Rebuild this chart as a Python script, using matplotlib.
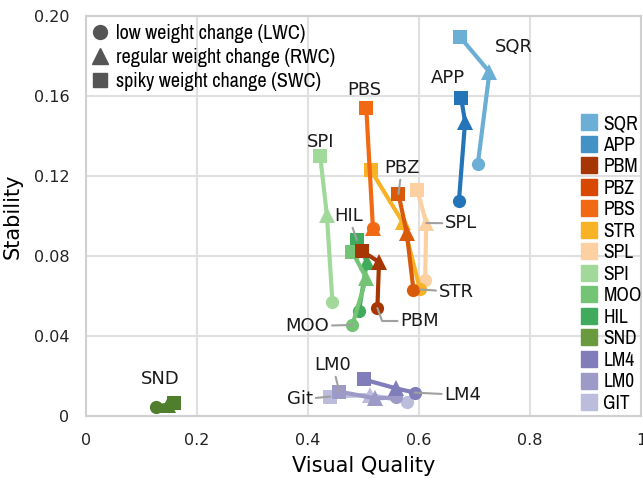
import numpy as np
import matplotlib
matplotlib.use("Agg")
import matplotlib.pyplot as plt
from matplotlib.lines import Line2D
from matplotlib import font_manager

# method names (legend order) and colours
methods = ["SQR", "APP", "PBM", "PBZ", "PBS", "STR", "SPL", "SPI", "MOO", "HIL", "SND", "LM4", "LM0", "GIT"]
colors = ["#6baed6", "#2474b8", "#a63603", "#d95a0b", "#f16913", "#f7b225", "#fdd0a2",
          "#a1d99b", "#74c476", "#41ab5d", "#4f7f2c", "#807dba", "#9e9ac8", "#bcbddc"]
legend_colors = ["#6baed6", "#4292c6", "#a63603", "#d94801", "#f16913", "#f7b225", "#fdd0a2",
                 "#a1d99b", "#74c476", "#41ab5d", "#6a9a3e", "#807dba", "#9e9ac8", "#bcbddc"]

# visual quality / stability for low (LWC), regular (RWC), spiky (SWC) weight change
lwc_x = [0.706, 0.672, 0.525, 0.590, 0.517, 0.602, 0.611, 0.444, 0.480, 0.492, 0.127, 0.592, 0.559, 0.579]
lwc_y = [0.126, 0.1077, 0.054, 0.063, 0.094, 0.0633, 0.068, 0.057, 0.0455, 0.0527, 0.0047, 0.0117, 0.0093, 0.0072]
rwc_x = [0.727, 0.683, 0.528, 0.578, 0.517, 0.5705, 0.613, 0.434, 0.505, 0.506, 0.147, 0.559, 0.521, 0.512]
rwc_y = [0.172, 0.147, 0.077, 0.0915, 0.094, 0.097, 0.0965, 0.1005, 0.069, 0.077, 0.0057, 0.0138, 0.0088, 0.0105]
swc_x = [0.674, 0.676, 0.497, 0.563, 0.505, 0.513, 0.597, 0.422, 0.480, 0.488, 0.159, 0.500, 0.4565, 0.440]
swc_y = [0.1895, 0.159, 0.0825, 0.111, 0.154, 0.123, 0.113, 0.130, 0.082, 0.088, 0.0063, 0.0183, 0.0122, 0.0097]

# label text, which point it points to, and where the text sits
label_text = ["SQR", "APP", "PBS", "SPI", "PBZ", "SPL", "HIL", "STR", "PBM", "MOO", "LM0", "Git", "LM4", "SND"]
label_series = ["SQR", "APP", "PBS", "SPI", "PBZ", "SPL", "HIL", "STR", "PBM", "MOO", "LM0", "GIT", "LM4", "SND"]
label_point = ["rwc", "swc", "swc", "swc", "swc", "rwc", "swc", "lwc", "lwc", "lwc", "swc", "swc", "lwc", "lwc"]
label_pos = [(0.771, 0.1845), (0.653, 0.169), (0.501, 0.163), (0.422, 0.137), (0.569, 0.124),
             (0.676, 0.0963), (0.473, 0.100), (0.667, 0.062), (0.601, 0.0475), (0.399, 0.045),
             (0.4445, 0.0255), (0.3856, 0.0083), (0.679, 0.0105), (0.133, 0.0185)]
label_leader = [False, False, False, False, True, True, True, True, True, True, True, True, True, False]

x_ticks = [0, 0.2, 0.4, 0.6, 0.8, 1.0]
x_labels = ["0", "0.2", "0.4", "0.6", "0.8", "1"]
y_ticks = [0, 0.04, 0.08, 0.12, 0.16, 0.20]
y_labels = ["0", "0.04", "0.08", "0.12", "0.16", "0.20"]


def legend_font(size):
    # narrow Arial-like face if there is one, else plain Liberation Sans
    narrow = [f.fname for f in font_manager.fontManager.ttflist
              if 'narrow' in f.fname.lower() and 'bold' not in f.fname.lower()
              and 'italic' not in f.fname.lower()]
    if narrow:
        return font_manager.FontProperties(fname=narrow[0], size=size), True
    return font_manager.FontProperties(family=['Liberation Sans', 'DejaVu Sans'], size=size), False


plt.rcParams['font.family'] = 'DejaVu Sans'

fig = plt.figure(figsize=(6.43, 4.80), dpi=100)
ax = fig.add_axes([86 / 643, 64 / 480, 555 / 643, 400 / 480])

# draw back to front so top legend entries end on top
order = list(range(len(methods)))[::-1]
for i in order:
    xs = [lwc_x[i], rwc_x[i], swc_x[i]]
    ys = [lwc_y[i], rwc_y[i], swc_y[i]]
    z = 3 + (len(methods) - i) * 0.1
    if methods[i] == "PBM":
        z = 5
    ax.plot(xs, ys, color=colors[i], linewidth=3, zorder=z, solid_capstyle='round')
    ax.plot(lwc_x[i], lwc_y[i], 'o', color=colors[i], markersize=9.5, markeredgewidth=0, zorder=z)
    ax.plot(rwc_x[i], rwc_y[i], '^', color=colors[i], markersize=11, markeredgewidth=0, zorder=z)
    ax.plot(swc_x[i], swc_y[i], 's', color=colors[i], markersize=10.3, markeredgewidth=0, zorder=z)

pts = {"lwc": (lwc_x, lwc_y), "rwc": (rwc_x, rwc_y), "swc": (swc_x, swc_y)}
for txt, ser, which, pos, lead in zip(label_text, label_series, label_point, label_pos, label_leader):
    k = methods.index(ser)
    px, py = pts[which][0][k], pts[which][1][k]
    if lead:
        cs = "arc3"
        if txt == "PBM":
            cs = "angle,angleA=0,angleB=-70,rad=0"
        ax.annotate(txt, xy=(px, py), xytext=pos, fontsize=13, ha='center', va='center',
                    color='#1a1a1a', zorder=10,
                    arrowprops=dict(arrowstyle='-', color='#a0a0a0', lw=1.5,
                                    shrinkA=0, shrinkB=0, connectionstyle=cs))
    else:
        ax.text(pos[0], pos[1], txt, fontsize=13, ha='center', va='center', color='#1a1a1a', zorder=10)

ax.set_xlim(0, 1)
ax.set_ylim(0, 0.2)
ax.set_xticks(x_ticks)
ax.set_xticklabels(x_labels, fontsize=11.5, color='#222222')
ax.set_yticks(y_ticks)
ax.set_yticklabels(y_labels, fontsize=11.5, color='#222222')
ax.tick_params(length=0, pad=12)
ax.grid(True, color='#e0e0e0', linewidth=1.5)
ax.set_axisbelow(True)
for s in ax.spines.values():
    s.set_color('#d0d0d0')
    s.set_linewidth(1.5)
ax.set_xlabel("Visual Quality", fontsize=15, labelpad=6)
ax.set_ylabel("Stability", fontsize=15, labelpad=8)

# shape legend
fp1, is_narrow = legend_font(14.5)
if not is_narrow:
    fp1.set_size(12.5)
shape_handles = [Line2D([], [], marker='o', color='#555555', linestyle='', markersize=10),
                 Line2D([], [], marker='^', color='#555555', linestyle='', markersize=11),
                 Line2D([], [], marker='s', color='#555555', linestyle='', markersize=10.5)]
shape_labels = ["low weight change (LWC)", "regular weight change (RWC)", "spiky weight change (SWC)"]
leg1 = ax.legend(shape_handles, shape_labels, loc='upper left', bbox_to_anchor=(0.006, 0.985),
                 frameon=False, prop=fp1, handlelength=0.9,
                 handletextpad=0.3, labelspacing=0.25 if is_narrow else 0.45,
                 borderaxespad=0.0, borderpad=0.1)
ax.add_artist(leg1)

# method legend
fp2, _ = legend_font(14)
if not is_narrow:
    fp2.set_size(12)
method_handles = [Line2D([], [], marker='s', color=c, linestyle='', markersize=11) for c in legend_colors]
leg2 = ax.legend(method_handles, methods, loc='upper left', bbox_to_anchor=(0.89, 0.755),
                 frameon=False, prop=fp2, handlelength=0.9,
                 handletextpad=0.3, labelspacing=0.13 if is_narrow else 0.3,
                 borderpad=0.0, borderaxespad=0.0)

fig.savefig("out.png", dpi=100)
